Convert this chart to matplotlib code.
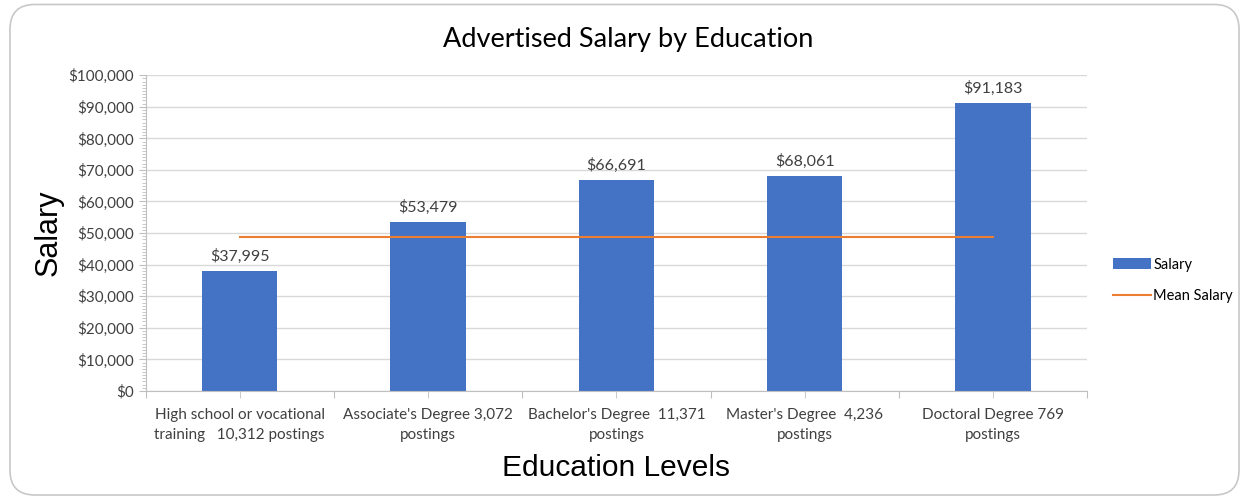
import matplotlib.pyplot as plt
from matplotlib.patches import FancyBboxPatch
from matplotlib.ticker import FuncFormatter, MultipleLocator, FixedLocator
import numpy as np

# chart data
categories = ["High school or vocational\ntraining   10,312 postings",
              "Associate's Degree 3,072\npostings",
              "Bachelor's Degree  11,371\npostings",
              "Master's Degree  4,236\npostings",
              "Doctoral Degree 769\npostings"]
salary = [37995, 53479, 66691, 68061, 91183]
mean_salary = [48800, 48800, 48800, 48800, 48800]

plt.rcParams['font.family'] = ['Lato', 'DejaVu Sans']

fig = plt.figure(figsize=(12.44, 4.98), dpi=100)
# rounded chart border
fig.patches.append(FancyBboxPatch((0.008, 0.006), 0.988, 0.985, boxstyle="round,pad=0,rounding_size=0.02",
                                  transform=fig.transFigure, fc='white', ec='#c8c8c8', lw=1.2,
                                  mutation_aspect=2.5, zorder=-5))
ax = fig.add_axes([0.117, 0.215, 0.757, 0.634])
ax.patch.set_alpha(0)

x = np.arange(len(categories))
bar_h = ax.bar(x, salary, width=0.4, color='#4472C4', label='Salary', zorder=2)
line_h, = ax.plot(x, mean_salary, color='#ED7D31', lw=1.5, label='Mean Salary', zorder=3)

for xi, v in zip(x, salary):
    ax.text(xi, v + 2300, f"${v:,}", ha='center', va='bottom', fontsize=11.5, color='#404040')

ax.set_xlim(-0.5, len(categories) - 0.5)
ax.set_ylim(0, 100000)
ax.yaxis.set_major_locator(MultipleLocator(10000))
ax.yaxis.set_minor_locator(MultipleLocator(1000))
ax.yaxis.set_major_formatter(FuncFormatter(lambda v, p: f"${v:,.0f}"))
ax.grid(axis='y', color='#d9d9d9', lw=1, zorder=0)

ax.set_xticks(np.arange(-0.5, len(categories), 1.0))
ax.set_xticklabels([])
ax.xaxis.set_minor_locator(FixedLocator(x))
ax.set_xticks(x, categories, minor=True)
for lbl in ax.get_xticklabels(minor=True):
    lbl.set_linespacing(1.55)
ax.tick_params(axis='x', which='both', length=5, color='#bfbfbf', labelsize=11, labelcolor='#404040')
ax.tick_params(axis='x', which='minor', pad=7)
ax.tick_params(axis='y', which='major', length=5, color='#bfbfbf', labelsize=11, labelcolor='#404040')
ax.tick_params(axis='y', which='minor', length=3, color='#bfbfbf')

for s in ['top', 'right']:
    ax.spines[s].set_visible(False)
ax.spines['left'].set_color('#bfbfbf')
ax.spines['bottom'].set_color('#bfbfbf')

ax.set_ylabel('Salary', fontsize=22, family='Liberation Sans', labelpad=3)
ax.set_xlabel('Education Levels', fontsize=21.5, family='Liberation Sans', labelpad=9)
ax.set_title('Advertised Salary by Education', fontsize=19.5, pad=20, x=0.512)

ax.legend([bar_h, line_h], ['Salary', 'Mean Salary'], loc='center left', bbox_to_anchor=(1.013, 0.35),
          frameon=False, fontsize=10.5, handlelength=2.6, labelspacing=1.2, handletextpad=0.2)

fig.savefig('out.png', dpi=100)
